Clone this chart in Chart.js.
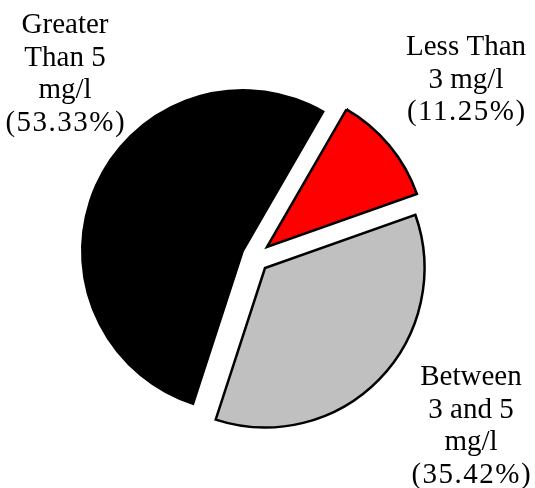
<!DOCTYPE html>
<html>
<head>
<meta charset="utf-8">
<script src="https://cdn.jsdelivr.net/npm/chart.js@4.4.1/dist/chart.umd.min.js"></script>
<style>
  html, body { margin: 0; padding: 0; background: #ffffff; }
  #wrap { position: relative; width: 535px; height: 488px; }
  #wrap canvas { position: absolute; left: 0; top: 0; }
</style>
</head>
<body>
<div id="wrap">
  <canvas id="c0" width="535" height="488"></canvas>
  <canvas id="c1" width="535" height="488"></canvas>
  <canvas id="c2" width="535" height="488"></canvas>
</div>
<script>
// ---- data ----
const categories = ["Less Than 3 mg/l", "Between 3 and 5 mg/l", "Greater Than 5 mg/l"];
const categoryLines = [["Less Than", "3 mg/l"], ["Between", "3 and 5", "mg/l"], ["Greater", "Than 5", "mg/l"]];
const percentages = [11.25, 35.42, 53.33];
const sliceColors = ["#ff0000", "#c0c0c0", "#000000"];

// ---- layout (exploded slice placement & label anchors, in px) ----
const sliceLayout = [
  { padding: { left: 0, right: 1, top: 6, bottom: 0 }, radius: 159, border: 2.5 },   // red
  { padding: { left: 0, right: 5, top: 48, bottom: 0 }, radius: 159.5, border: 2.5 }, // gray
  { padding: { left: 0, right: 49, top: 14, bottom: 0 }, radius: 161, border: 2 }     // black
];
const labelAnchors = [
  { x: 466, y: 55 },
  { x: 471, y: 385 },
  { x: 65, y: 33 }
];
const FONT = '29px "Liberation Serif", "Times New Roman", serif';
const LINE_H = 32.5;

const labelPlugin = {
  id: 'sliceLabels',
  afterDraw(chart) {
    const ctx = chart.ctx;
    ctx.save();
    ctx.font = FONT;
    ctx.fillStyle = '#000000';
    ctx.textAlign = 'center';
    ctx.textBaseline = 'alphabetic';
    categories.forEach((c, i) => {
      const lines = categoryLines[i].concat(['(' + percentages[i].toFixed(2) + '%)']);
      lines.forEach((t, k) => {
        const isPct = k === lines.length - 1;
        if ('letterSpacing' in ctx) ctx.letterSpacing = isPct ? '1.5px' : '0px';
        ctx.fillText(t, labelAnchors[i].x + (isPct ? 0.75 : 0), labelAnchors[i].y + k * LINE_H);
      });
    });
    ctx.restore();
  }
};

// draw order: black first (bottom), then gray, then red
const order = [2, 1, 0];
order.forEach((sliceIdx, n) => {
  const lay = sliceLayout[sliceIdx];
  new Chart(document.getElementById('c' + n), {
    type: 'pie',
    data: {
      labels: categories,
      datasets: [{
        data: percentages,
        backgroundColor: sliceColors.map((col, i) => i === sliceIdx ? col : 'rgba(0,0,0,0)'),
        borderColor: sliceColors.map((col, i) => i === sliceIdx ? '#000000' : 'rgba(0,0,0,0)'),
        borderWidth: sliceColors.map((col, i) => i === sliceIdx ? lay.border : 0),
        borderJoinStyle: 'miter'
      }]
    },
    options: {
      responsive: false,
      animation: false,
      events: [],
      rotation: 30,
      radius: lay.radius,
      layout: { padding: lay.padding },
      plugins: { legend: { display: false }, tooltip: { enabled: false } }
    },
    plugins: n === order.length - 1 ? [labelPlugin] : []
  });
});
</script>
</body>
</html>
